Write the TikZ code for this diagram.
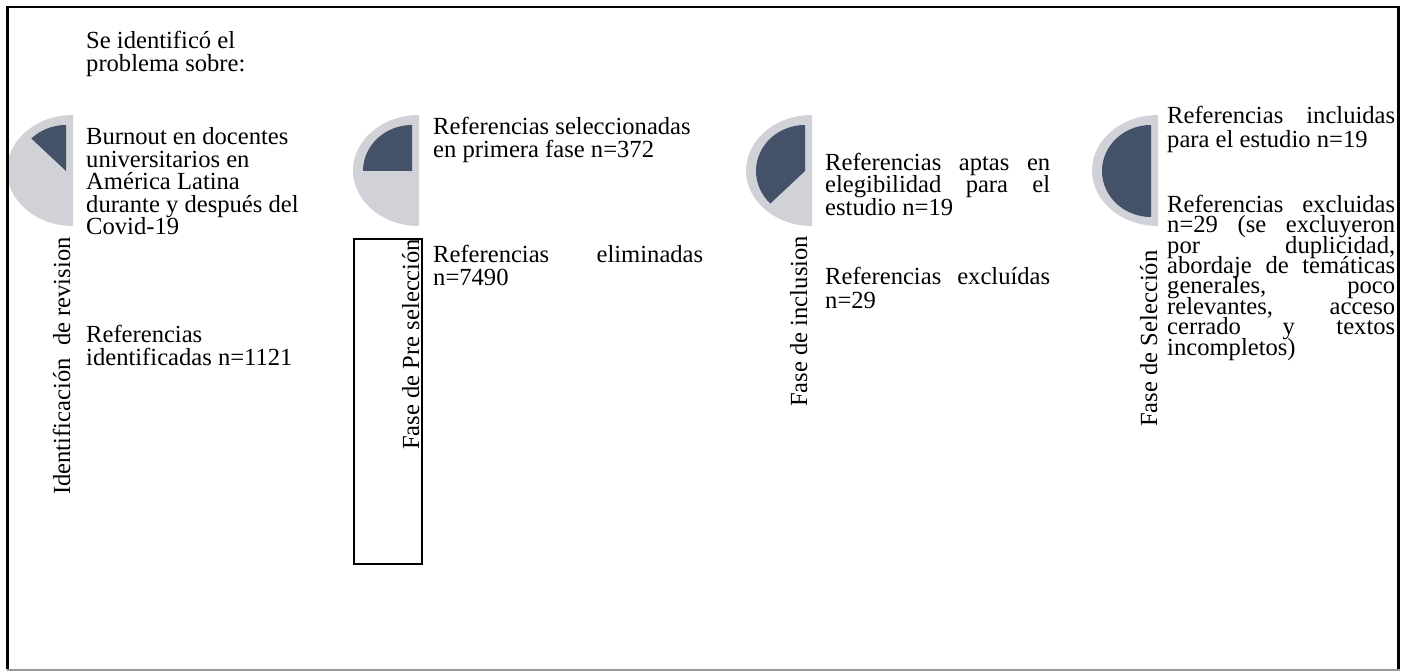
\documentclass[tikz,border=0pt]{standalone}
\usepackage{fontspec}
\setmainfont{Liberation Serif}
\definecolor{pieGray}{RGB}{208,210,216}
\definecolor{pieDark}{RGB}{67,82,105}
\begin{document}
\lineskiplimit=-100pt
\lineskip=0pt
\begin{tikzpicture}[x=1pt,y=-1pt,
  txt/.style={inner sep=0pt, anchor=base west, align=left, font=\fontsize{24.6}{23.5}\selectfont},
  midtxt/.style={txt, font=\fontsize{24.6}{22.5}\selectfont},
  tighttxt/.style={txt, font=\fontsize{24.6}{20.4}\selectfont},
  vlab/.style={inner sep=0pt, anchor=base west, rotate=90, font=\fontsize{24.6}{23.5}\selectfont},
  graypie/.style={fill=pieGray},
  darkpie/.style={fill=pieDark},
  frame/.style={line width=2.5pt, black},
  phasebox/.style={draw, line width=1.5pt, inner sep=0pt, anchor=north west, minimum width=68pt, minimum height=325pt}]
\useasboundingbox (0,0) rectangle (1415,671);

% pies
\foreach \cx/\ea in {73/-135, 419/-180, 812/-225, 1158/-270} {
  \fill[graypie] (\cx,170.5) -- ++(0,-55.5) arc[start angle=-90, end angle=-270, x radius=66, y radius=55.5] -- cycle;
  \fill[darkpie] (\cx-7,171) -- ++(0,-46) arc[start angle=-90, end angle=\ea, x radius=49, y radius=46] -- cycle;
}

% outer frame
\draw[frame] (7.5,669) -- (7.5,7) -- (1398.5,7) -- (1398.5,669);
\draw[line width=1.5pt, black!40] (6.5,669.8) -- (1399.5,669.8);

% phase box
\node[phasebox] (prebox) at (353,238) {};

% vertical labels
\node[vlab] (l1) at (70,495) {Identificación\ \ de revision};
\node[vlab] (l2) at (419,450) {Fase de Pre selección};
\node[vlab] (l3) at (807,407) {Fase de inclusion};
\node[vlab] (l4) at (1157,427) {Fase de Selección};

% texts (anchored at the baseline of their last line)
\node[txt] (t0) at (86,72) {Se identificó el\\problema sobre:};
\node[midtxt] (t1) at (86,234.5) {Burnout en docentes\\universitarios en\\América Latina\\durante y después del\\Covid-19};
\node[txt] (t2) at (86,365.5) {Referencias\\identificadas n=1121};
\node[txt] (t3) at (433,158) {Referencias seleccionadas\\en primera fase n=372};
\node[txt] (t4) at (433,285.5) {\makebox[270pt][s]{Referencias eliminadas}\\n=7490};
\node[midtxt] (t5) at (825,215) {\makebox[225pt][s]{Referencias aptas en}\\\makebox[225pt][s]{elegibilidad para el}\\estudio n=19};
\node[txt] (t6) at (825,308) {\makebox[225pt][s]{Referencias excluídas}\\n=29};
\node[txt] (t7) at (1167,147.5) {\makebox[228pt][s]{Referencias incluidas}\\para el estudio n=19};
\node[tighttxt] (t8) at (1167,355) {\makebox[228pt][s]{Referencias excluidas}\\\makebox[228pt][s]{n=29 (se excluyeron}\\\makebox[228pt][s]{por duplicidad,}\\\makebox[228pt][s]{abordaje de temáticas}\\\makebox[228pt][s]{generales, poco}\\\makebox[228pt][s]{relevantes, acceso}\\\makebox[228pt][s]{cerrado y textos}\\incompletos)};
\end{tikzpicture}
\end{document}
